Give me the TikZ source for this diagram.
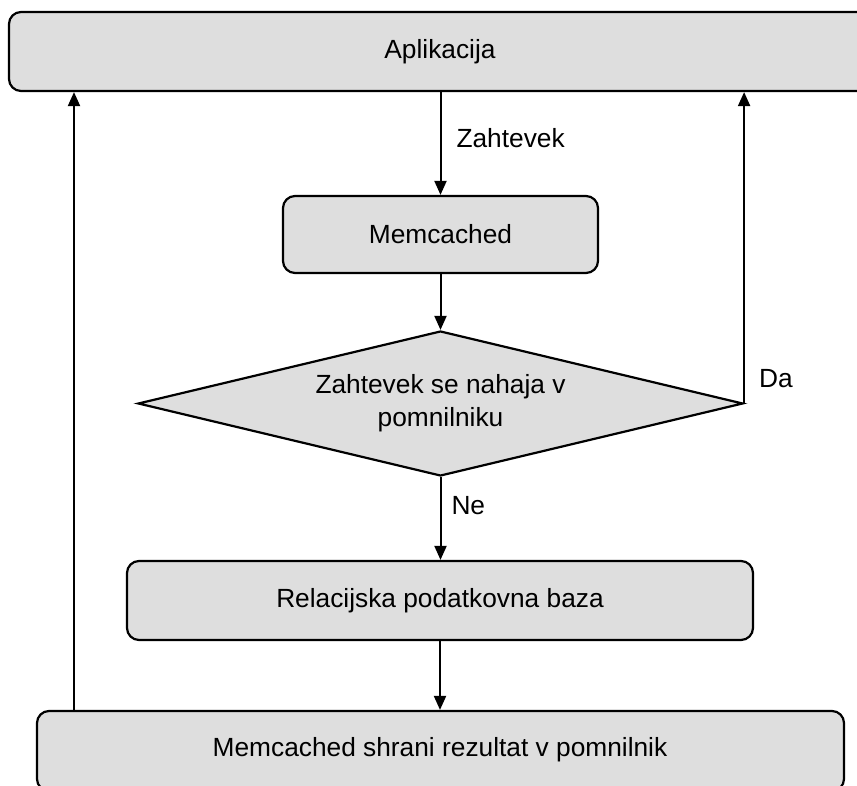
\documentclass[tikz,border=0pt]{standalone}
\usepackage{fontspec}
\setmainfont{Liberation Sans}
\usetikzlibrary{arrows.meta,shapes.geometric}
\definecolor{boxfill}{HTML}{DEDEDE}
\tikzset{
  box/.style={draw=black, line width=2.2pt, fill=boxfill, rounded corners=12pt, inner sep=0pt, align=center},
  decision/.style={draw=black, line width=2.2pt, fill=boxfill, diamond, inner sep=0pt, align=center, aspect=4.17},
  conn/.style={draw=black, line width=2pt, -{Triangle[length=14pt,width=12pt]}},
  lbl/.style={inner sep=0pt, anchor=west},
  txt/.style={inner sep=0pt}
}
\begin{document}
\begin{tikzpicture}[x=1pt,y=-1pt,font=\fontsize{26.3}{33}\selectfont]
\useasboundingbox (0,0) rectangle (857,786);
\clip (0,0) rectangle (857,786);
\node[box, minimum width=920pt, minimum height=79pt] (app) at (469,51.5) {};
\node[txt] (apptxt) at (440,52) {Aplikacija};
\node[box, minimum width=315pt, minimum height=77pt] (mem) at (440.5,234.5) {Memcached};
\node[decision, minimum width=605pt, minimum height=145pt] (dec) at (440.5,403.5) {Zahtevek se nahaja v\\pomnilniku};
\node[box, minimum width=807pt, minimum height=80pt] (shr) at (440.5,751) {};
\node[txt] (shrtxt) at (440,750) {Memcached shrani rezultat v pomnilnik};
\node[box, minimum width=626pt, minimum height=79pt] (rel) at (440,600.5) {Relacijska podatkovna baza};
\coordinate (lbot) at (shr.north -| 74,0);
\coordinate (ltop) at (app.south -| 74,0);
\coordinate (rtop) at (app.south -| dec.east);
\draw[conn] (app.south -| mem.north) -- node[lbl, pos=0.45, xshift=15pt] {Zahtevek} (mem.north);
\draw[conn] (mem.south) -- (mem.south |- dec.north);
\draw[conn] (dec.south) -- node[lbl, pos=0.34, xshift=10pt] {Ne} (dec.south |- rel.north);
\draw[conn] (rel.south) -- (rel.south |- shr.north);
\draw[conn] (lbot) -- (ltop);
\draw[conn] (dec.east) -- node[lbl, pos=0.08, xshift=14pt] {Da} (rtop);
\end{tikzpicture}
\end{document}
